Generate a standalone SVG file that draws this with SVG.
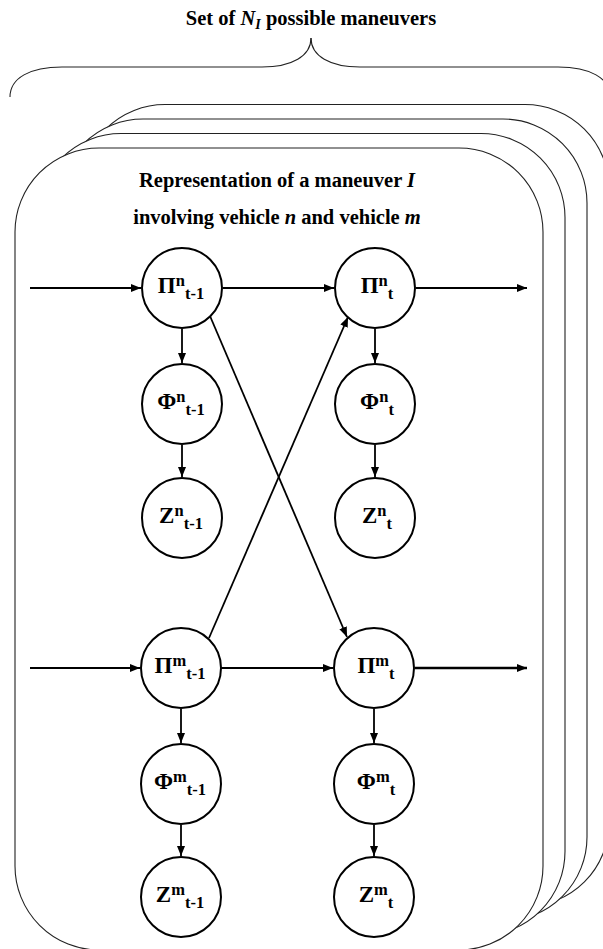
<svg xmlns="http://www.w3.org/2000/svg" width="603" height="949" viewBox="0 0 603 949">
<style>
.card{fill:#fff;stroke:#222;stroke-width:1.1}
.brace{fill:none;stroke:#222;stroke-width:1.1}
.title{font-family:"Liberation Serif","Times New Roman",serif;font-weight:bold;font-size:20.5px;fill:#000;text-anchor:middle}
.node circle{fill:#fff;stroke:#000;stroke-width:2}
.lab{font-family:"Liberation Serif","Times New Roman",serif;font-weight:bold;font-size:23px;fill:#000;text-anchor:middle}
.s{font-size:16.5px}
.edge{fill:none;stroke:#000;stroke-width:1.8;marker-end:url(#ah)}
</style>
<defs>
<marker id="ah" markerUnits="userSpaceOnUse" markerWidth="11" markerHeight="9" refX="10" refY="4" orient="auto">
<path d="M0,0 L10,4 L0,8 Z" fill="#000"/>
</marker>
</defs>
<rect width="603" height="949" fill="#fff"/>
<g id="title">
<text class="title" x="311" y="25">Set of <tspan font-style="italic">N</tspan><tspan font-style="italic" font-size="14px" dy="4">I</tspan><tspan dy="-4"> possible maneuvers</tspan></text>
<path class="brace" d="M311,38 C311,56 292,67 262,67 L62,67 C30,67 10,78 10,97"/>
<path class="brace" d="M311,38 C311,56 330,67 360,67 L558,67 C590,67 610,78 610,97"/>
</g>
<g id="cards">
<rect class="card" x="81" y="104.5" width="528" height="802" rx="84" ry="84"/>
<rect class="card" x="59" y="119" width="528" height="802" rx="84" ry="84"/>
<rect class="card" x="37" y="133.5" width="528" height="802" rx="84" ry="84"/>
<rect class="card" x="15" y="148" width="528" height="802" rx="84" ry="84"/>
</g>
<g id="card-title">
<text class="title" x="277" y="187">Representation of a maneuver <tspan font-style="italic">I</tspan></text>
<text class="title" x="277" y="224">involving vehicle <tspan font-style="italic">n</tspan> and vehicle <tspan font-style="italic">m</tspan></text>
</g>
<g id="connectors">
<line class="edge" x1="30" y1="288" x2="141" y2="288"/>
<line class="edge" x1="30" y1="668" x2="140" y2="668"/>
<line class="edge" x1="223" y1="288" x2="334" y2="288"/>
<line class="edge" x1="221" y1="668" x2="333" y2="668"/>
<line class="edge" x1="416" y1="288" x2="527" y2="288"/>
<line class="edge" x1="415" y1="668" x2="527" y2="668" style="stroke-width:2.5"/>
<line class="edge" x1="182" y1="329" x2="182" y2="363"/>
<line class="edge" x1="182" y1="445" x2="182" y2="477"/>
<line class="edge" x1="375" y1="329" x2="375" y2="363"/>
<line class="edge" x1="375" y1="445" x2="375" y2="477"/>
<line class="edge" x1="181" y1="709" x2="181" y2="743"/>
<line class="edge" x1="181" y1="825" x2="181" y2="856"/>
<line class="edge" x1="374" y1="709" x2="374" y2="743"/>
<line class="edge" x1="374" y1="825" x2="374" y2="856"/>
<line class="edge" x1="210" y1="316" x2="347" y2="637"/>
<line class="edge" x1="209" y1="638" x2="348" y2="317"/>
</g>
<g id="Pi_n_t-1" class="node"><circle cx="182" cy="288" r="40"/><text class="lab" x="181" y="293">Π<tspan class="s" dy="-7">n</tspan><tspan class="s" dy="13">t-1</tspan></text></g>
<g id="Pi_n_t" class="node"><circle cx="375" cy="288" r="40"/><text class="lab" x="377" y="293">Π<tspan class="s" dy="-7">n</tspan><tspan class="s" dy="13">t</tspan></text></g>
<g id="Phi_n_t-1" class="node"><circle cx="182" cy="404" r="40"/><text class="lab" x="181" y="409">Φ<tspan class="s" dy="-7">n</tspan><tspan class="s" dy="13">t-1</tspan></text></g>
<g id="Phi_n_t" class="node"><circle cx="375" cy="404" r="40"/><text class="lab" x="377" y="409">Φ<tspan class="s" dy="-7">n</tspan><tspan class="s" dy="13">t</tspan></text></g>
<g id="Z_n_t-1" class="node"><circle cx="182" cy="518" r="40"/><text class="lab" x="181" y="523">Z<tspan class="s" dy="-7">n</tspan><tspan class="s" dy="13">t-1</tspan></text></g>
<g id="Z_n_t" class="node"><circle cx="375" cy="518" r="40"/><text class="lab" x="377" y="523">Z<tspan class="s" dy="-7">n</tspan><tspan class="s" dy="13">t</tspan></text></g>
<g id="Pi_m_t-1" class="node"><circle cx="181" cy="668" r="40"/><text class="lab" x="180" y="673">Π<tspan class="s" dy="-7">m</tspan><tspan class="s" dy="13">t-1</tspan></text></g>
<g id="Pi_m_t" class="node"><circle cx="374" cy="668" r="40"/><text class="lab" x="376" y="673">Π<tspan class="s" dy="-7">m</tspan><tspan class="s" dy="13">t</tspan></text></g>
<g id="Phi_m_t-1" class="node"><circle cx="181" cy="784" r="40"/><text class="lab" x="180" y="789">Φ<tspan class="s" dy="-7">m</tspan><tspan class="s" dy="13">t-1</tspan></text></g>
<g id="Phi_m_t" class="node"><circle cx="374" cy="784" r="40"/><text class="lab" x="376" y="789">Φ<tspan class="s" dy="-7">m</tspan><tspan class="s" dy="13">t</tspan></text></g>
<g id="Z_m_t-1" class="node"><circle cx="181" cy="897" r="40"/><text class="lab" x="180" y="902">Z<tspan class="s" dy="-7">m</tspan><tspan class="s" dy="13">t-1</tspan></text></g>
<g id="Z_m_t" class="node"><circle cx="374" cy="897" r="40"/><text class="lab" x="376" y="902">Z<tspan class="s" dy="-7">m</tspan><tspan class="s" dy="13">t</tspan></text></g>
</svg>
